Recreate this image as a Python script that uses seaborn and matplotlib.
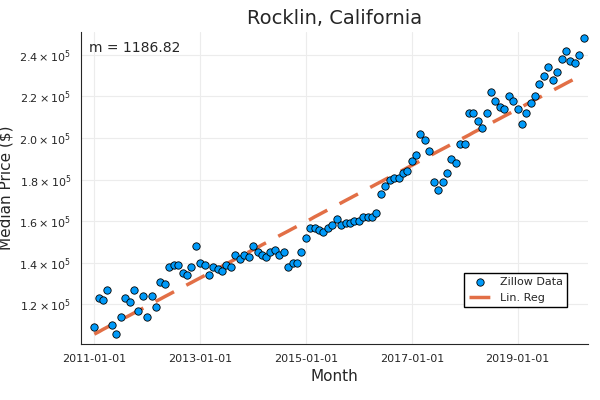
import numpy as np
import pandas as pd
import matplotlib
matplotlib.use("Agg")
import matplotlib.pyplot as plt
import seaborn as sns

# median price, thousands of dollars, monthly from 2011-01
prices_k = [109, 123, 122, 127, 110, 106, 114, 123, 121, 127, 117, 124,
            114, 124, 119, 131, 130, 138, 139, 139, 135, 134, 138, 148,
            140, 139, 134, 138, 137, 136, 139, 138, 144, 142, 144, 143,
            148, 145, 144, 143, 145, 146, 144, 145, 138, 140, 140, 145,
            152, 157, 157, 156, 155, 157, 158, 161, 158, 159, 159, 160,
            160, 162, 162, 162, 164, 173, 177, 180, 181, 181, 183, 184,
            189, 192, 202, 199, 194, 179, 175, 179, 183, 190, 188, 197,
            197, 212, 212, 208, 205, 212, 222, 218, 215, 214, 220, 218,
            214, 207, 212, 217, 220, 226, 230, 234, 228, 232, 238, 242,
            237, 236, 240, 248]
months = pd.date_range("2011-01-01", periods=len(prices_k), freq="MS")
price = np.array(prices_k) * 1000.0

df = pd.DataFrame({"Month": months, "Price": price})
idx = np.arange(len(df))
m, b = np.polyfit(idx, price, 1)
df["fit"] = m * idx + b

sns.set_style("white")
fig, ax = plt.subplots(figsize=(6, 4), dpi=100)
sns.scatterplot(data=df, x="Month", y="Price", ax=ax, color="#009af9",
                edgecolor="black", linewidth=0.6, s=28, label="Zillow Data", zorder=3)
sns.lineplot(data=df, x="Month", y="fit", ax=ax, color="#e26f46", lw=2.5,
             label="Lin. Reg", zorder=2)
ax.lines[0].set_dashes((6, 4))

ax.set_title("Rocklin, California", fontsize=14)
ax.set_xlabel("Month", fontsize=11)
ax.set_ylabel("Median Price ($)", fontsize=11)
ticks = [120000, 140000, 160000, 180000, 200000, 220000, 240000]
ax.set_yticks(ticks)
ax.set_yticklabels([r"$%.1f\times10^5$" % (t / 1e5) for t in ticks], fontsize=8)
ax.set_ylim(101000, 251000)
xt = pd.to_datetime(["2011-01-01", "2013-01-01", "2015-01-01", "2017-01-01", "2019-01-01"])
ax.set_xticks(xt)
ax.set_xticklabels([d.strftime("%Y-%m-%d") for d in xt], fontsize=8)
ax.set_xlim(pd.Timestamp("2010-10-01"), pd.Timestamp("2020-05-01"))
ax.grid(True, color="#ececec", lw=0.8)
for s in ["top", "right"]:
    ax.spines[s].set_visible(False)
ax.text(0.015, 0.97, "m = 1186.82", transform=ax.transAxes, fontsize=10, va="top")
ax.legend(loc="lower right", bbox_to_anchor=(0.97, 0.1), fontsize=8, fancybox=False,
          edgecolor="black", framealpha=1)
fig.subplots_adjust(left=0.135, right=0.98, top=0.92, bottom=0.14)
fig.savefig("out.png")
